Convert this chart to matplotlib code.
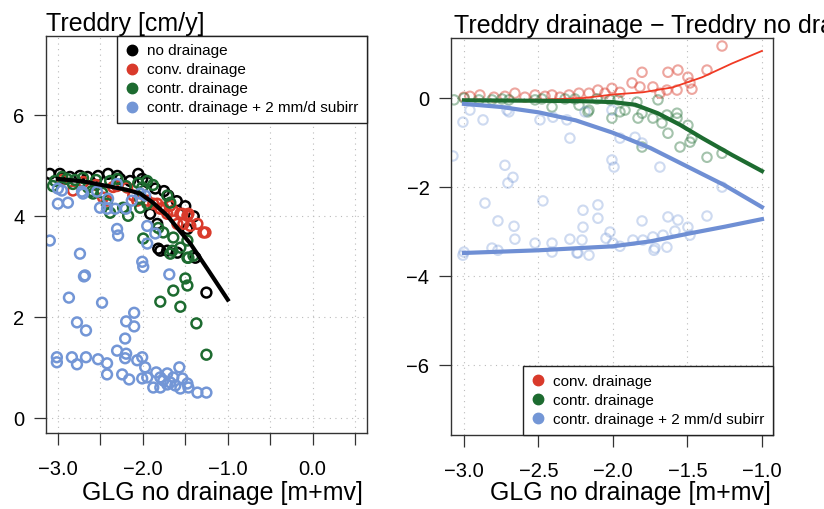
import numpy as np
import matplotlib.pyplot as plt
from matplotlib.lines import Line2D

plt.rcParams['font.family'] = ['Liberation Sans', 'DejaVu Sans']

# colours
c_no = '#000000'
c_conv = '#d93a2b'
c_contr = '#1d6b30'
c_sub = '#7396d6'

# ---- left panel: Treddry per scenario ----
no_x = [-3.095, -2.976, -2.858, -2.740, -2.527, -2.409, -2.267, -2.054, -2.007, -1.853,
        -1.700, -1.913, -1.830, -1.475, -1.818, -1.712, -1.593, -1.381, -1.794, -1.251,
        -2.95, -2.65, -2.30, -2.15, -1.95, -1.75, -1.60, -1.50, -1.40]
no_y = [4.84, 4.84, 4.78, 4.80, 4.80, 4.84, 4.74, 4.84, 4.74, 4.55,
        4.41, 4.05, 3.85, 3.75, 3.36, 3.32, 3.28, 3.18, 3.32, 2.49,
        4.75, 4.78, 4.80, 4.70, 4.68, 4.50, 4.30, 4.20, 4.00]

conv_x = [-2.823, -2.468, -2.421, -2.303, -2.184, -2.113, -2.066, -2.031, -1.948, -1.877,
          -1.830, -1.794, -1.759, -1.712, -1.676, -1.641, -1.593, -1.558, -1.534, -1.522,
          -1.475, -1.463, -1.440, -1.357, -1.286, -1.262, -2.95, -2.70, -2.55, -2.35]
conv_y = [4.51, 4.37, 4.31, 4.60, 4.57, 4.41, 4.31, 4.35, 4.31, 4.25,
          4.25, 4.15, 4.17, 4.05, 4.21, 4.11, 3.85, 4.05, 4.05, 3.85,
          4.01, 4.05, 3.81, 3.85, 3.68, 3.68, 4.72, 4.68, 4.62, 4.58]

contr_x = [-3.059, -3.035, -2.894, -2.823, -2.704, -2.645, -2.586, -2.480, -2.421, -2.385,
           -2.385, -2.232, -2.173, -2.054, -2.007, -2.031, -2.031, -1.948, -1.712, -1.676,
           -1.995, -1.818, -1.759, -1.641, -1.652, -1.475, -1.558, -1.475, -1.404, -1.676,
           -1.463, -1.794, -1.558, -1.641, -1.499, -1.475, -1.369, -1.251,
           -2.95, -2.80, -2.55, -2.30, -2.20, -1.95, -1.88, -2.60]
contr_y = [4.60, 4.70, 4.74, 4.64, 4.76, 4.57, 4.45, 4.47, 4.25, 4.70,
           4.07, 4.17, 4.01, 4.66, 4.57, 4.35, 4.17, 4.25, 4.41, 4.27,
           3.56, 3.77, 3.68, 3.58, 3.32, 3.52, 3.38, 3.18, 3.22, 3.26,
           3.18, 2.31, 2.21, 2.53, 2.77, 2.63, 1.88, 1.26,
           4.78, 4.72, 4.72, 4.74, 4.60, 4.70, 4.62, 4.50]

sub_x = [-3.095, -3.000, -2.953, -3.000, -2.882, -2.716, -2.704, -2.539, -2.504, -2.409,
         -2.303, -2.421, -2.326, -2.303, -2.291, -2.740, -2.031, -1.972, -1.948, -1.948,
         -1.853, -2.007, -1.995, -2.693, -2.681, -1.688, -2.870, -2.480, -2.775, -2.669,
         -2.102, -2.196, -2.102, -2.208, -2.303, -2.196, -2.208, -3.012, -3.012, -2.835,
         -2.775, -2.669, -2.527, -2.421, -2.421, -2.243, -2.161, -2.066, -2.007, -1.972,
         -2.007, -1.948, -1.842, -1.794, -1.712, -1.570, -1.877, -1.794, -1.676, -1.617,
         -1.558, -1.475, -1.463, -1.357, -1.251, -1.759, -1.712, -1.641, -1.534, -2.20, -2.13]
sub_y = [3.52, 4.55, 4.51, 4.25, 4.27, 4.49, 4.45, 4.49, 4.17, 4.35,
         4.64, 4.15, 4.15, 3.75, 3.62, 3.26, 4.45, 4.41, 3.81, 3.46,
         3.66, 3.10, 3.00, 2.81, 2.83, 2.85, 2.39, 2.29, 1.90, 1.74,
         2.09, 1.92, 1.82, 1.58, 1.34, 1.28, 1.19, 1.21, 1.11, 1.21,
         1.07, 1.21, 1.17, 1.09, 0.87, 0.87, 0.77, 1.15, 1.21, 1.01,
         0.79, 0.81, 0.91, 0.81, 0.89, 1.01, 0.61, 0.61, 0.71, 0.65,
         0.59, 0.69, 0.61, 0.51, 0.51, 0.75, 0.67, 0.81, 0.79, 4.15, 4.31]

# smooth fit for no drainage
fit_no_x = [-3.0, -2.7, -2.42, -2.2, -2.03, -1.88, -1.71, -1.56, -1.44, -1.24, -1.0]
fit_no_y = [4.74, 4.69, 4.60, 4.53, 4.45, 4.27, 4.01, 3.70, 3.46, 2.96, 2.35]

# ---- right panel: Treddry drainage - Treddry no drainage ----
dconv_x = [-3.0, -2.96, -2.799, -2.725, -2.658, -2.523, -2.409, -2.295, -2.228, -2.161,
           -2.101, -2.054, -2.007, -1.953, -1.872, -1.819, -1.805, -1.732, -1.685, -1.638,
           -1.631, -1.570, -1.564, -1.497, -1.483, -1.470, -1.369, -1.268,
           -2.893, -2.456, -2.591, -2.356]
dconv_y = [0.02, 0.04, 0.02, 0.04, 0.11, 0.07, 0.07, 0.07, 0.11, 0.11,
           0.18, 0.11, 0.22, 0.13, 0.34, 0.25, 0.58, 0.25, 0.11, 0.18,
           0.58, 0.18, 0.63, 0.47, 0.34, 0.20, 0.63, 1.17,
           0.07, 0.04, 0.02, 0.02]

dcontr_x = [-3.067, -3.0, -2.899, -2.812, -2.745, -2.698, -2.523, -2.477, -2.409, -2.322,
            -2.255, -2.228, -2.161, -2.107, -2.020, -1.966, -2.007, -1.953, -1.919, -1.839,
            -1.832, -1.805, -1.805, -1.732, -1.698, -1.671, -1.638, -1.631, -1.570, -1.570,
            -1.550, -1.497, -1.483, -1.470, -1.369, -1.268, -2.168]
dcontr_y = [-0.04, 0.0, -0.04, -0.04, -0.02, -0.04, -0.04, -0.02, -0.20, -0.02,
            -0.02, -0.16, -0.27, -0.02, -0.04, -0.04, -0.45, -0.31, -0.27, -0.09,
            -0.45, -0.34, -1.10, -0.45, -0.04, -0.56, -0.38, -0.79, -0.34, -0.45,
            -1.10, -0.61, -0.99, -0.90, -1.33, -1.24, -0.31]

dsub_x = [-3.074, -3.007, -2.960, -2.872, -2.711, -2.698, -2.490, -2.403, -2.309, -2.289,
          -2.188, -2.007, -1.953, -1.852, -1.805, -1.685, -2.007, -1.993, -2.725, -2.705,
          -2.671, -2.859, -2.772, -2.664, -2.658, -2.812, -2.772, -3.007, -3.0, -2.470,
          -2.523, -2.409, -2.409, -2.289, -2.201, -2.201, -2.208, -2.235, -2.161, -2.101,
          -2.101, -2.020, -2.047, -2.000, -1.953, -1.866, -1.805, -1.799, -1.732, -1.718,
          -1.664, -1.638, -1.631, -1.564, -1.584, -1.497, -1.483, -1.369, -1.268, -1.725,
          -2.242]
dsub_y = [-1.30, -0.54, -0.27, -0.49, -0.27, -0.31, -0.49, -0.43, -0.49, -0.90,
          -0.31, -0.27, -0.90, -0.88, -1.01, -1.55, -1.39, -1.55, -1.51, -1.91,
          -1.78, -2.36, -2.76, -2.88, -3.17, -3.37, -3.42, -3.53, -3.46, -2.31,
          -3.26, -3.26, -3.46, -3.17, -2.52, -2.90, -3.19, -3.48, -3.53, -2.40,
          -2.70, -3.01, -3.15, -3.26, -3.33, -3.19, -2.76, -3.19, -3.12, -3.37,
          -3.08, -3.35, -2.67, -2.74, -2.99, -2.90, -3.08, -2.65, -2.00, -3.42,
          -3.48]

fit_conv_x = [-3.0, -2.5, -2.2, -2.0, -1.8, -1.6, -1.4, -1.2, -1.0]
fit_conv_y = [-0.05, -0.04, 0.0, 0.08, 0.13, 0.24, 0.47, 0.78, 1.06]
fit_contr_x = [-3.0, -2.5, -2.2, -2.0, -1.85, -1.7, -1.55, -1.4, -1.2, -1.0]
fit_contr_y = [-0.05, -0.06, -0.07, -0.09, -0.15, -0.34, -0.60, -0.90, -1.28, -1.64]
fit_sub1_x = [-3.0, -2.75, -2.5, -2.25, -2.0, -1.75, -1.5, -1.25, -1.0]
fit_sub1_y = [-0.13, -0.20, -0.32, -0.50, -0.78, -1.12, -1.54, -1.96, -2.45]
fit_sub2_x = [-3.0, -2.5, -2.0, -1.75, -1.5, -1.25, -1.0]
fit_sub2_y = [-3.48, -3.42, -3.33, -3.22, -3.05, -2.89, -2.72]

labels_all = ['no drainage', 'conv. drainage', 'contr. drainage', 'contr. drainage + 2 mm/d subirr']

W, H = 824, 509
fig = plt.figure(figsize=(W / 100, H / 100), dpi=100)
ax1 = fig.add_axes([46 / W, 1 - 433 / H, 321 / W, 397 / H])
ax2 = fig.add_axes([451 / W, 1 - 435 / H, 322 / W, 397 / H])


def style_axis(ax):
    for s in ax.spines.values():
        s.set_color('#333333')
        s.set_linewidth(1.0)
    ax.tick_params(axis='x', length=8.5, width=0.9, color='#333333', pad=11, labelsize=14.5)
    ax.tick_params(axis='y', length=8.5, width=0.9, color='#333333', pad=7, labelsize=14.5)
    ax.grid(True, linestyle=(0, (1, 4)), color='#bbbbbb', linewidth=0.8)
    ax.set_axisbelow(True)


ms = 50
lw = 1.8
ax1.scatter(no_x, no_y, s=ms, facecolors='none', edgecolors=c_no, linewidths=lw)
ax1.scatter(conv_x, conv_y, s=ms, facecolors='none', edgecolors=c_conv, linewidths=lw)
ax1.scatter(contr_x, contr_y, s=ms, facecolors='none', edgecolors=c_contr, linewidths=lw)
ax1.scatter(sub_x, sub_y, s=ms, facecolors='none', edgecolors=c_sub, linewidths=lw)
ax1.plot(fit_no_x, fit_no_y, color=c_no, lw=3)

ax1.set_xlim(-3.14, 0.64)
ax1.set_ylim(-0.29, 7.57)
ax1.set_xticks(np.arange(-3.0, 0.51, 0.5))
ax1.set_xticklabels(['\u22123.0', '', '\u22122.0', '', '\u22121.0', '', '0.0', ''])
ax1.set_yticks([0, 2, 4, 6])
style_axis(ax1)

h1 = [Line2D([], [], marker='o', ls='none', color=c, markersize=7.5)
      for c in [c_no, c_conv, c_contr, c_sub]]
leg_kw = dict(borderaxespad=0, fancybox=False, framealpha=1, edgecolor='#222222', fontsize=11,
              handlelength=0.8, handletextpad=0.6, labelspacing=0.32, borderpad=0.55)
leg1 = ax1.legend(h1, labels_all, loc='upper right', bbox_to_anchor=(1, 1), **leg_kw)
leg1.get_frame().set_linewidth(1.0)

ms2 = 46
lw2 = 1.5
ax2.scatter(dconv_x, dconv_y, s=ms2, facecolors='none', edgecolors=c_conv, linewidths=lw2, alpha=0.45)
ax2.scatter(dcontr_x, dcontr_y, s=ms2, facecolors='none', edgecolors=c_contr, linewidths=lw2, alpha=0.4)
ax2.scatter(dsub_x, dsub_y, s=ms2, facecolors='none', edgecolors=c_sub, linewidths=lw2, alpha=0.35)
ax2.plot(fit_conv_x, fit_conv_y, color='#f03a24', lw=1.3)
ax2.plot(fit_contr_x, fit_contr_y, color=c_contr, lw=3)
ax2.plot(fit_sub1_x, fit_sub1_y, color='#6f8fd4', lw=3)
ax2.plot(fit_sub2_x, fit_sub2_y, color='#6f8fd4', lw=3)

ax2.set_xlim(-3.087, -0.926)
ax2.set_ylim(-7.57, 1.35)
ax2.set_xticks([-3.0, -2.5, -2.0, -1.5, -1.0])
ax2.set_xticklabels(['\u22123.0', '\u22122.5', '\u22122.0', '\u22121.5', '\u22121.0'])
ax2.set_yticks([0, -2, -4, -6])
ax2.set_yticklabels(['0', '\u22122', '\u22124', '\u22126'])
style_axis(ax2)

leg2 = ax2.legend(h1[1:], labels_all[1:], loc='lower right', bbox_to_anchor=(1, 0), **leg_kw)
leg2.get_frame().set_linewidth(1.0)

# titles and axis labels (right title runs off the figure edge, as in the original)
fig.text(46 / W, 1 - 31 / H, 'Treddry [cm/y]', fontsize=18, va='baseline', ha='left')
fig.text(454 / W, 1 - 33 / H, 'Treddry drainage \u2212 Treddry no drainage [cm/y]',
         fontsize=18, va='baseline', ha='left')
fig.text(222 / W, 1 - 500 / H, 'GLG no drainage [m+mv]', fontsize=18, va='baseline', ha='center')
fig.text(630 / W, 1 - 500 / H, 'GLG no drainage [m+mv]', fontsize=18, va='baseline', ha='center')

fig.savefig('out.png', dpi=100)
